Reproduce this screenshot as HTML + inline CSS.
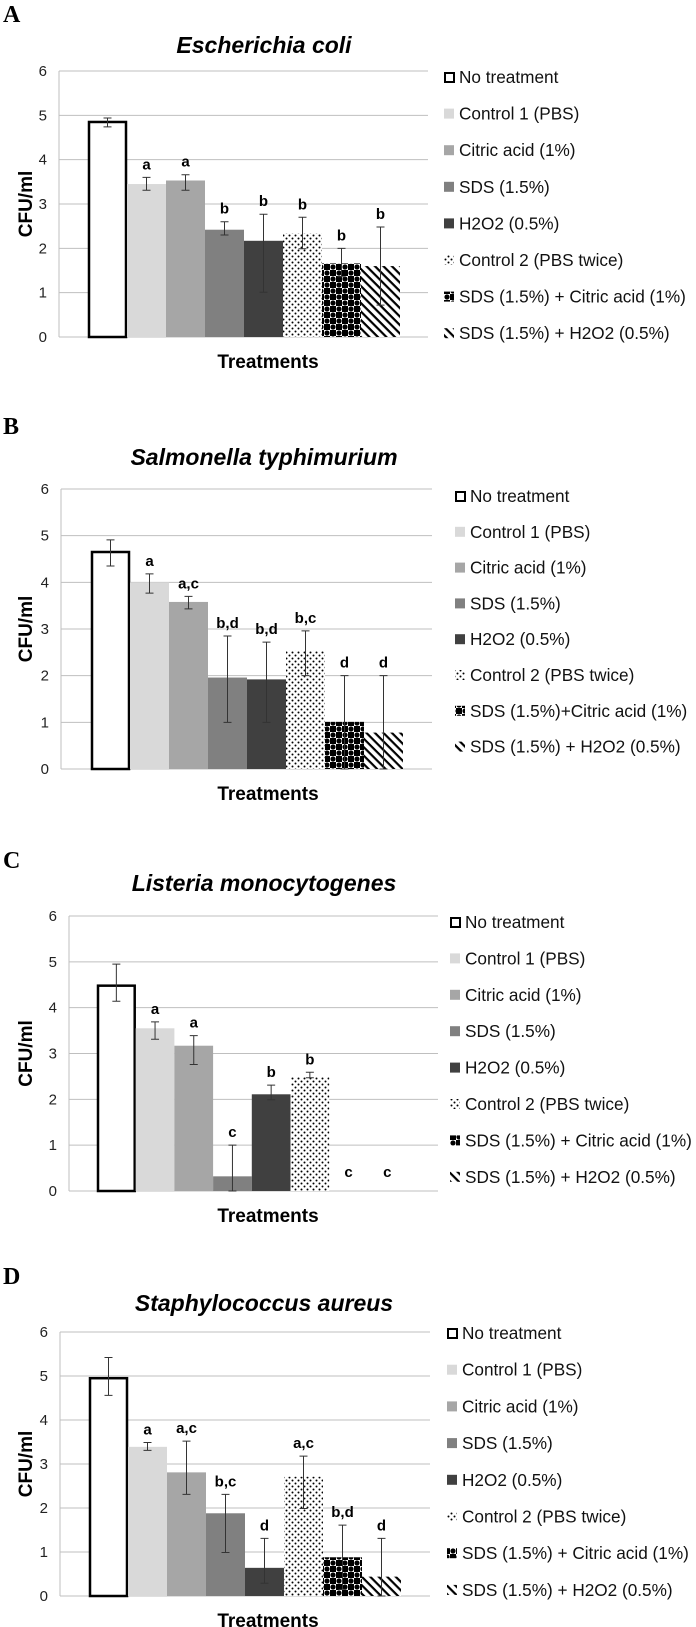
<!DOCTYPE html>
<html><head><meta charset="utf-8">
<style>
body{margin:0;background:#fff;}
svg{display:block;font-family:"Liberation Sans",Arial,sans-serif;}
</style></head>
<body>
<svg id="fig" width="696" height="1627" viewBox="0 0 696 1627">
<defs>
<pattern id="pDots" width="6" height="6" patternUnits="userSpaceOnUse">
<rect width="6" height="6" fill="#fff"/><circle cx="1.5" cy="1.5" r="1" fill="#000"/><circle cx="4.5" cy="4.5" r="1" fill="#000"/>
</pattern>
<pattern id="pCheck" width="12" height="12" patternUnits="userSpaceOnUse">
<rect width="12" height="12" fill="#fff"/><rect width="6" height="6" fill="#000"/><rect x="6" y="6" width="6" height="6" fill="#000"/>
<circle cx="9" cy="3" r="2.6" fill="#000"/><circle cx="3" cy="9" r="2.6" fill="#000"/>
</pattern>
<pattern id="pDiag" width="6" height="6" patternUnits="userSpaceOnUse" patternTransform="rotate(45)">
<rect width="6" height="6" fill="#fff"/><rect width="6" height="2.2" fill="#000"/>
</pattern>
</defs>
</svg>
<script>
const treatments=["No treatment","Control 1 (PBS)","Citric acid (1%)","SDS (1.5%)","H2O2 (0.5%)","Control 2 (PBS twice)","SDS (1.5%) + Citric acid (1%)","SDS (1.5%) + H2O2 (0.5%)"];
const yTicks=[0,1,2,3,4,5,6];
const ecoliValues=[4.85,3.45,3.53,2.42,2.17,2.34,1.66,1.6];
const ecoliHigh=[4.94,3.6,3.66,2.6,2.77,2.7,2.0,2.48];
const ecoliLow=[4.74,3.31,3.31,2.3,1.01,1.99,1.36,0.72];
const ecoliLetters=["","a","a","b","b","b","b","b"];
const salmValues=[4.65,4.0,3.58,1.96,1.92,2.54,1.01,0.78];
const salmHigh=[4.91,4.18,3.7,2.85,2.72,2.96,2.0,2.0];
const salmLow=[4.35,3.77,3.43,1.0,1.0,2.0,0,0];
const salmLetters=["","a","a,c","b,d","b,d","b,c","d","d"];
const listValues=[4.48,3.55,3.17,0.32,2.11,2.49,0,0];
const listHigh=[4.95,3.69,3.39,1.0,2.31,2.59,0,0];
const listLow=[4.14,3.31,2.76,0,1.99,2.47,0,0];
const listLetters=["","a","a","c","b","b","c","c"];
const staphValues=[4.95,3.39,2.81,1.88,0.64,2.71,0.88,0.44];
const staphHigh=[5.42,3.49,3.52,2.31,1.31,3.18,1.61,1.31];
const staphLow=[4.56,3.31,2.31,0.99,0.29,1.99,0.15,0];
const staphLetters=["","a","a,c","b,c","d","a,c","b,d","d"];

const fills=["#fff","#d9d9d9","#a6a6a6","#808080","#404040","url(#pDots)","url(#pCheck)","url(#pDiag)"];
const NS="http://www.w3.org/2000/svg";
const svg=document.getElementById('fig');
function el(tag,attrs,parent,text){const e=document.createElementNS(NS,tag);for(const k in attrs)e.setAttribute(k,attrs[k]);if(text!==undefined)e.textContent=text;(parent||svg).appendChild(e);return e;}

function panel(p){
  const g=el('g',{});
  
  
  const y=v=>p.bottom-(p.bottom-p.top)*v/6;
  const x=i=>p.bar0+i*p.bw;
  let t=el('text',{x:3,y:p.labelY,'font-family':'"Liberation Serif",serif','font-weight':'bold','font-size':24},g,p.letter);
  
  
  t=el('text',{x:264,y:p.titleY+8,'text-anchor':'middle','font-weight':'bold','font-style':'italic','font-size':23},g,p.title);
  
  
  yTicks.forEach(v=>{
    const l=el('line',{x1:p.left,x2:p.right,y1:y(v),y2:y(v),stroke:'#bfbfbf','stroke-width':1},g);
    
    
    const tt=el('text',{x:p.left-12,y:y(v)+5,'text-anchor':'end','font-size':15,fill:'#222'},g,String(v));
    
    
  });
  const ax=el('line',{x1:p.left,x2:p.left,y1:p.top,y2:p.bottom,stroke:'#bfbfbf'},g);
  
  
  p.values.forEach((v,i)=>{
    if(v>0){
      const r=el('rect',{x:x(i)+(i==0?1:0),y:y(v),width:p.bw-(i==0?2:0),height:p.bottom-y(v),fill:fills[i],stroke:i==0?'#000':'none','stroke-width':i==0?2.5:0},g);
      
      
    }
    const cx=x(i)+p.bw/2;
    if(p.high[i]>p.low[i]){
      const e=el('path',{d:`M${cx},${y(p.high[i])}V${y(p.low[i])}M${cx-4},${y(p.high[i])}H${cx+4}M${cx-4},${y(p.low[i])}H${cx+4}`,stroke:'#333','stroke-width':1,fill:'none'},g);
      
      
    }
    if(p.letters[i]){
      const top=Math.max(p.high[i],p.values[i]);
      const ly=p.values[i]===0?y(0)-14:y(top)-8;
      const lt=el('text',{x:cx,y:ly,'text-anchor':'middle','font-weight':'bold','font-size':15},g,p.letters[i]);
      
      
    }
  });
  t=el('text',{x:268,y:p.bottom+31,'text-anchor':'middle','font-weight':'bold','font-size':19},g,'Treatments');
  
  
  const ym=(p.top+p.bottom)/2;
  t=el('text',{x:32,y:ym,'text-anchor':'middle','font-weight':'bold','font-size':19,transform:`rotate(-90 32 ${ym})`},g,'CFU/ml');
  
  
  treatments.forEach((name,i)=>{
    const ry=p.legY+i*p.legStep;
    const lg=el('g',{},g);
    
    
    el('rect',{x:p.legX+(i==0?1:0),y:ry-5+(i==0?1:0),width:i==0?9:10,height:i==0?9:10,fill:fills[i],stroke:i==0?'#000':'none','stroke-width':2},lg);
    el('text',{x:p.legX+15,y:ry+6,'font-size':17.2,fill:'#111'},lg,p.legNames?p.legNames[i]:name);
  });
}
panel({id:'a',letter:'A',labelY:22,titleY:45,title:'Escherichia coli',top:71,bottom:337,left:59,right:428,bar0:88,bw:39,values:ecoliValues,high:ecoliHigh,low:ecoliLow,letters:ecoliLetters,legX:444,legY:77,legStep:36.6});
const salmNames=treatments.slice();salmNames[6]="SDS (1.5%)+Citric acid (1%)";
panel({id:'b',letter:'B',labelY:434,titleY:457,title:'Salmonella typhimurium',top:489,bottom:769,left:61,right:432,bar0:91,bw:39,values:salmValues,high:salmHigh,low:salmLow,letters:salmLetters,legX:455,legY:496,legStep:35.8,legNames:salmNames});
panel({id:'c',letter:'C',labelY:868,titleY:883,title:'Listeria monocytogenes',top:916,bottom:1191,left:69,right:438,bar0:97,bw:38.7,values:listValues,high:listHigh,low:listLow,letters:listLetters,legX:450,legY:922,legStep:36.4});
panel({id:'d',letter:'D',labelY:1284,titleY:1303,title:'Staphylococcus aureus',top:1332,bottom:1596,left:60,right:430,bar0:89,bw:39,values:staphValues,high:staphHigh,low:staphLow,letters:staphLetters,legX:447,legY:1333,legStep:36.7});
</script>
</body></html>
